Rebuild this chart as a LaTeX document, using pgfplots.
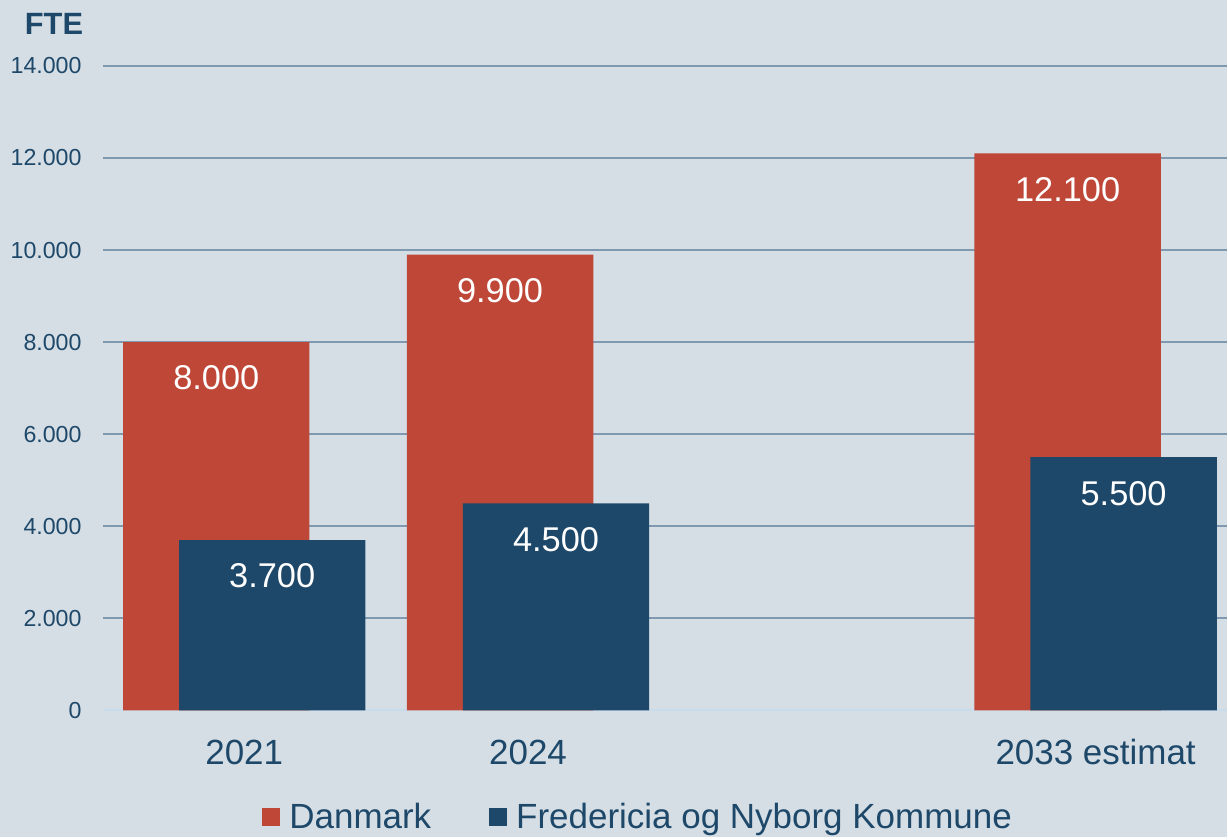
\documentclass[border=0pt]{standalone}
\usepackage{fontspec}
\setmainfont{Liberation Sans}
\usepackage{pgfplots}
\pgfplotsset{compat=1.18}
\definecolor{bgc}{HTML}{D6DEE5}
\definecolor{redb}{HTML}{BE4737}
\definecolor{blueb}{HTML}{1E4869}
\definecolor{gridc}{HTML}{7F9AB0}
\definecolor{basec}{HTML}{C9DCEC}
\definecolor{txt}{HTML}{1E4869}
\begin{document}
\begin{tikzpicture}
\fill[bgc] (0,0) rectangle (614pt,419pt);
\begin{axis}[
  at={(51.5pt,63.5pt)}, anchor=south west,
  scale only axis, width=562.5pt, height=322.5pt,
  xmin=-0.498, xmax=3.463, ymin=0, ymax=14000,
  axis line style={draw=none}, major tick length=0pt,
  ybar, bar width=0.657,
  xtick={0,1,3}, xticklabels={2021,2024,2033 estimat},
  ytick={2000,4000,...,14000},
  extra y ticks={0},
  extra y tick style={grid style={basec, line width=1pt}},
  scaled y ticks=false,
  ymajorgrids, grid style={gridc, line width=1pt},
  /pgf/number format/1000 sep={.},
  /pgf/number format/fixed,
  /pgf/number format/precision=0,
  /pgf/number format/assume math mode=true,
  tick label style={text=txt},
  yticklabel style={font=\fontsize{11.6}{13}\selectfont, anchor=east, inner sep=0pt, xshift=-10.5pt},
  xticklabel style={font=\fontsize{17.5}{20}\selectfont, anchor=center, yshift=-21pt},
  nodes near coords,
  nodes near coords style={text=white, font=\fontsize{17.2}{19}\selectfont, anchor=center, yshift=-18pt},
  legend columns=2,
  legend style={at={(0.477,-0.166)}, anchor=center, draw=none, fill=none,
    font=\fontsize{17.5}{20}\selectfont, text=txt,
    /tikz/every even column/.append style={column sep=27pt}},
]
\addplot[fill=redb, draw=none, bar shift=-0.0986,
  legend image code/.code={\fill[redb] (0pt,-4.5pt) rectangle (9pt,4.5pt); \path (11.5pt,0pt);}]
  coordinates {(0,8000) (1,9900) (3,12100)};
\addplot[fill=blueb, draw=none, bar shift=0.0986,
  legend image code/.code={\fill[blueb] (0pt,-4.5pt) rectangle (9pt,4.5pt); \path (11.5pt,0pt);}]
  coordinates {(0,3700) (1,4500) (3,5500)};
\legend{Danmark, Fredericia og Nyborg Kommune}
\end{axis}
\node[font=\bfseries\fontsize{15.4}{17}\selectfont, text=txt] at (27pt,407pt) {FTE};
\end{tikzpicture}
\end{document}
